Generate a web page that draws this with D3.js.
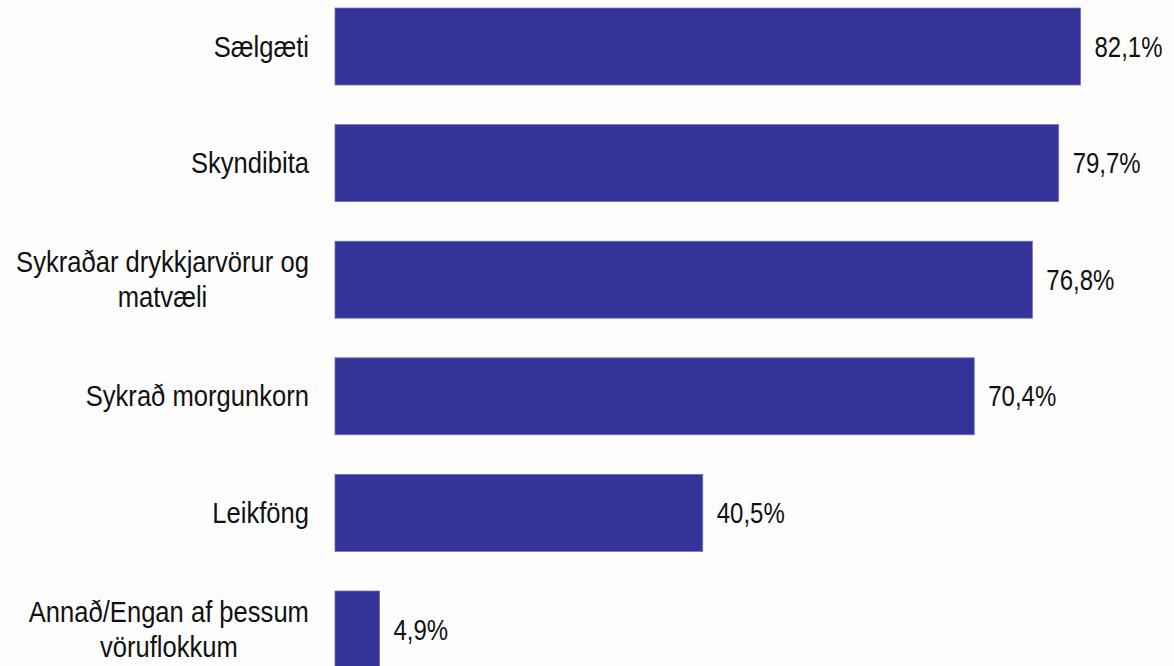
<!DOCTYPE html>
<html>
<head>
<meta charset="utf-8">
<script src="https://cdn.jsdelivr.net/npm/d3@7"></script>
<style>
  html, body { margin: 0; padding: 0; background: #fdfdfd; }
  svg { display: block; }
  text { font-family: "Liberation Sans", Arial, sans-serif; fill: #111; }
</style>
</head>
<body>
<svg id="chart" width="1174" height="666"></svg>
<script>
const categories = [
  ["Sælgæti"],
  ["Skyndibita"],
  ["Sykraðar drykkjarvörur og", "matvæli"],
  ["Sykrað morgunkorn"],
  ["Leikföng"],
  ["Annað/Engan af þessum", "vöruflokkum"]
];
const values = [82.1, 79.7, 76.8, 70.4, 40.5, 4.9];
const valueLabels = ["82,1%", "79,7%", "76,8%", "70,4%", "40,5%", "4,9%"];

const svg = d3.select("#chart");
const keys = categories.map((c, i) => i);

const x = d3.scaleLinear().domain([0, 90]).range([335, 335 + 90 * 9.08]);
const y = d3.scaleBand().domain(keys).range([-31.6, 707.6]).padding(0.34);

const catFont = 25.6, catV = 1.12, valFont = 24, valV = 1.2, lineGap = 35;

svg.selectAll("rect.bar")
  .data(keys)
  .join("rect")
  .attr("class", "bar")
  .attr("x", x(0))
  .attr("y", i => y(i))
  .attr("width", i => x(values[i]) - x(0))
  .attr("height", y.bandwidth())
  .attr("fill", "#333399")
  .attr("stroke", "#6f6fb3")
  .attr("stroke-width", 0.8);

// category labels (block right-aligned, lines centered)
const labelRight = 309;
svg.selectAll("g.cat")
  .data(keys)
  .join("g")
  .attr("class", "cat")
  .each(function(i) {
    const lines = categories[i];
    const g = d3.select(this);
    const cy = y(i) + y.bandwidth() / 2;
    const tmp = g.append("text").style("font-size", catFont + "px");
    let maxW = 0;
    lines.forEach(l => { tmp.text(l); maxW = Math.max(maxW, tmp.node().getComputedTextLength()); });
    tmp.remove();
    const cx = labelRight - maxW / 2;
    lines.forEach((l, k) => {
      const off = (k - (lines.length - 1) / 2) * lineGap;
      g.append("g")
        .attr("transform", `translate(${cx},${cy + off}) scale(1,${catV})`)
        .append("text")
        .attr("text-anchor", "middle")
        .attr("dy", "0.35em")
        .style("font-size", catFont + "px")
        .text(l);
    });
  });

// value labels
svg.selectAll("g.val")
  .data(keys)
  .join("g")
  .attr("class", "val")
  .attr("transform", i => `translate(${x(values[i]) + 14},${y(i) + y.bandwidth() / 2}) scale(1,${valV})`)
  .append("text")
  .attr("dy", "0.35em")
  .style("font-size", valFont + "px")
  .text(i => valueLabels[i]);
</script>
</body>
</html>
